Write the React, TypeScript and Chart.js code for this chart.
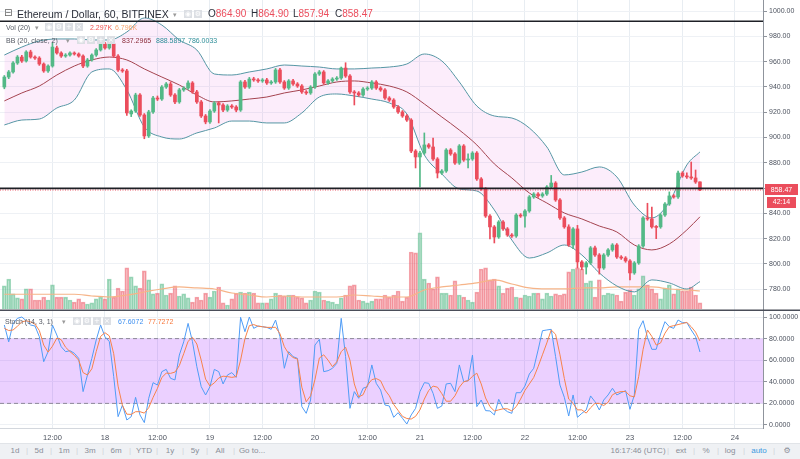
import React, { useEffect, useRef } from 'react';
import { Chart, registerables } from 'chart.js';

Chart.register(...registerables);

// ---------- data ----------
const START_HOUR = -23; // first candle: 17th 01:00 (hours relative to day 18 00:00)
const FIRST_DAY = 18;

const OPEN = [
  939.9, 947.8, 951.8, 958.9, 963.6, 960.5, 967.6, 963.6, 962.8, 958.1,
  952.6, 956.5, 970.8, 966.8, 964.4, 965.2, 966.8, 966.0, 964.4, 956.5,
  961.3, 965.2, 969.2, 973.9, 970.8, 973.9, 964.4, 953.4, 952.6, 918.6,
  920.9, 933.6, 917.8, 901.2, 920.2, 931.2, 930.4, 939.9, 942.3, 933.6,
  928.1, 937.6, 939.1, 943.1, 936.0, 928.1, 917.0, 912.3, 920.9, 927.3,
  925.7, 921.7, 924.9, 924.1, 921.7, 943.9, 939.9, 946.2, 945.5, 944.7,
  945.5, 943.1, 943.9, 953.4, 943.9, 939.1, 944.7, 942.3, 940.7, 936.0,
  935.2, 939.9, 950.2, 951.8, 943.1, 944.7, 946.2, 947.0, 954.9, 948.6,
  936.0, 935.2, 933.6, 938.3, 939.1, 943.9, 939.1, 937.6, 931.2, 929.6,
  924.1, 920.2, 917.0, 913.8, 889.3, 884.6, 887.7, 894.1, 892.5, 883.0,
  871.9, 873.5, 890.1, 887.0, 879.8, 893.3, 882.2, 883.0, 887.7, 867.2,
  859.3, 837.9, 829.3, 821.3, 833.2, 827.7, 822.9, 822.1, 838.7, 837.9,
  841.9, 853.0, 855.3, 853.8, 855.3, 860.9, 864.0, 850.6, 836.4, 829.3,
  815.0, 827.7, 801.6, 797.6, 800.8, 812.7, 807.1, 796.8, 807.1, 811.1,
  815.0, 805.5, 804.7, 802.4, 792.9, 800.8, 814.2, 836.4, 835.6, 829.3,
  829.3, 838.7, 847.4, 853.8, 853.0, 871.9, 869.6, 868.8, 868.0, 864.9,
];
const HIGH = [
  949.0, 953.0, 960.0, 964.8, 965.0, 968.6, 969.0, 964.6, 963.9, 959.0,
  957.5, 975.0, 972.3, 967.8, 966.3, 967.8, 967.7, 966.9, 965.3, 962.5,
  966.2, 970.3, 975.0, 975.2, 975.0, 975.3, 965.5, 954.5, 953.8, 921.9,
  935.0, 934.8, 918.9, 921.5, 932.5, 932.8, 941.0, 943.5, 944.0, 934.8,
  938.8, 940.2, 944.8, 944.2, 937.2, 929.3, 918.2, 922.0, 928.5, 928.4,
  926.8, 926.0, 926.0, 925.2, 945.0, 945.2, 947.5, 947.6, 946.6, 946.6,
  946.8, 945.0, 954.6, 954.6, 945.0, 945.8, 945.9, 943.4, 941.8, 937.1,
  941.0, 951.3, 953.0, 952.9, 945.8, 947.3, 948.1, 955.7, 959.1, 949.7,
  937.1, 936.3, 939.4, 940.2, 945.0, 945.0, 940.2, 938.7, 932.3, 930.7,
  925.2, 921.3, 918.1, 914.9, 890.4, 889.0, 903.6, 895.2, 899.6, 884.1,
  874.6, 891.2, 891.2, 888.1, 894.4, 894.4, 887.0, 888.8, 888.8, 868.3,
  860.4, 839.0, 830.4, 834.3, 834.3, 828.8, 824.0, 839.8, 839.8, 843.0,
  854.1, 856.4, 856.4, 856.4, 862.0, 870.0, 865.1, 851.7, 837.5, 831.0,
  828.8, 830.5, 802.7, 801.9, 813.8, 814.2, 808.2, 808.2, 812.2, 816.1,
  816.1, 806.6, 805.8, 803.5, 801.9, 815.3, 837.5, 848.0, 845.0, 830.4,
  839.8, 848.5, 857.0, 854.9, 873.5, 873.0, 872.0, 880.6, 874.3, 864.9,
];
const LOW = [
  938.5, 946.5, 950.9, 957.8, 959.4, 959.6, 962.7, 961.8, 957.0, 951.5,
  951.4, 955.6, 965.9, 963.3, 963.4, 964.2, 965.1, 963.5, 955.2, 955.5,
  960.4, 964.1, 968.3, 969.8, 969.8, 963.2, 952.2, 951.5, 917.5, 916.5,
  919.8, 916.6, 899.0, 900.0, 919.0, 929.2, 929.3, 938.8, 932.5, 926.8,
  927.0, 936.5, 938.0, 934.9, 926.9, 915.8, 910.8, 911.2, 919.8, 911.5,
  920.5, 920.6, 923.0, 920.3, 920.6, 938.8, 938.8, 944.4, 943.6, 943.6,
  942.0, 942.0, 942.8, 942.8, 938.0, 938.0, 941.2, 939.6, 934.9, 934.0,
  934.1, 938.8, 949.1, 942.0, 942.0, 943.6, 945.1, 945.9, 947.5, 934.9,
  925.7, 932.5, 932.5, 937.2, 938.0, 938.0, 936.5, 930.1, 928.5, 923.0,
  919.1, 915.9, 912.7, 888.0, 875.9, 860.9, 886.6, 891.4, 881.9, 868.0,
  870.8, 872.4, 885.9, 878.7, 878.7, 881.1, 876.0, 881.9, 866.1, 858.2,
  836.8, 819.8, 816.6, 820.2, 826.6, 821.8, 821.0, 821.0, 836.8, 829.0,
  840.8, 851.9, 852.7, 852.7, 854.2, 859.8, 849.5, 835.3, 828.2, 813.9,
  812.0, 797.0, 795.5, 792.0, 799.7, 806.0, 792.0, 795.7, 806.0, 810.0,
  804.4, 803.6, 801.3, 787.4, 791.8, 799.7, 813.1, 834.5, 828.2, 820.0,
  828.2, 837.6, 846.3, 852.0, 851.9, 868.5, 867.7, 866.9, 863.7, 857.94,
];
const CLOSE = [
  947.8, 951.8, 958.9, 963.6, 960.5, 967.6, 963.6, 962.8, 958.1, 952.6,
  956.5, 971.5, 966.8, 964.4, 965.2, 966.8, 966.0, 964.4, 956.5, 961.3,
  965.2, 969.2, 973.9, 970.8, 973.9, 964.4, 953.4, 952.6, 919.4, 920.9,
  933.6, 917.8, 901.2, 920.2, 931.2, 930.4, 939.9, 942.3, 933.6, 928.1,
  937.6, 939.1, 943.1, 936.0, 928.1, 917.0, 912.3, 920.9, 927.3, 925.7,
  921.7, 924.9, 924.1, 921.7, 943.9, 939.9, 946.2, 945.5, 944.7, 945.5,
  943.1, 943.9, 953.4, 943.9, 939.1, 944.7, 942.3, 940.7, 936.0, 935.2,
  939.9, 950.2, 951.8, 943.1, 944.7, 946.2, 947.0, 954.9, 948.6, 936.0,
  935.2, 933.6, 938.3, 939.1, 943.9, 939.1, 937.6, 931.2, 929.6, 924.1,
  920.2, 917.0, 913.8, 889.3, 884.6, 887.7, 894.1, 892.5, 883.0, 871.9,
  873.5, 890.1, 887.0, 879.8, 893.3, 882.2, 883.0, 887.7, 867.2, 859.3,
  837.9, 829.3, 821.3, 833.2, 827.7, 822.9, 822.1, 838.7, 837.9, 841.9,
  853.0, 855.3, 853.8, 855.3, 860.9, 864.0, 850.6, 836.4, 829.3, 815.0,
  827.7, 801.6, 797.6, 800.8, 812.7, 807.1, 796.8, 807.1, 811.1, 815.0,
  805.5, 804.7, 802.4, 792.9, 800.8, 814.2, 836.4, 835.6, 829.3, 828.9,
  838.7, 847.4, 853.8, 853.0, 871.9, 869.6, 868.8, 868.0, 864.8, 858.47,
];
// volume in thousands
const VOLUME = [
  8.7, 11.3, 5.7, 4.2, 3.8, 7.6, 7.6, 3.4, 3.4, 4.5,
  3.4, 9.1, 4.5, 4.5, 4.5, 3.4, 2.6, 3.8, 2.6, 1.9,
  2.3, 3.8, 4.5, 3.8, 11.3, 4.5, 7.9, 6.8, 15.5, 12.1,
  8.7, 7.9, 14.4, 11.0, 5.7, 6.0, 9.5, 5.3, 6.0, 8.7,
  4.9, 5.7, 4.2, 2.6, 4.5, 3.4, 6.0, 4.5, 6.8, 8.3,
  2.3, 1.5, 3.8, 6.0, 6.4, 6.0, 6.4, 6.0, 2.3, 2.3,
  2.3, 3.8, 6.0, 5.3, 4.9, 5.3, 5.3, 4.5, 4.2, 2.3,
  3.4, 6.8, 6.4, 3.4, 3.0, 2.6, 1.9, 4.2, 5.3, 8.7,
  9.1, 3.4, 3.0, 2.3, 3.0, 3.8, 3.8, 5.3, 4.5, 5.3,
  6.8, 3.0, 4.5, 21.5, 21.2, 28.7, 11.3, 9.8, 7.6, 12.1,
  6.0, 6.0, 5.3, 10.6, 5.3, 4.5, 3.4, 2.6, 6.4, 15.1,
  15.5, 11.0, 11.3, 8.7, 6.0, 7.9, 8.3, 4.5, 4.2, 5.3,
  4.9, 6.0, 6.0, 3.8, 6.0, 4.9, 5.7, 5.3, 5.7, 14.0,
  15.1, 15.5, 15.1, 9.8, 10.6, 4.5, 11.0, 5.3, 6.0, 5.7,
  5.3, 3.0, 6.4, 7.2, 5.3, 7.6, 12.5, 9.1, 7.6, 6.0,
  3.8, 7.9, 9.1, 5.7, 7.6, 6.8, 6.8, 8.3, 5.3, 2.297,
];
const STOCH_K = [
  92.6, 77, 94, 98.8, 100, 96.6, 92.6, 91.7, 81.8, 58.6,
  67.9, 92.6, 83.3, 72.5, 67.9, 68.8, 66.4, 61.7, 30.9, 46.3,
  61.7, 78.7, 92.6, 81.8, 77.2, 44.8, 7.7, 18.5, 4.6, 7.7,
  25.6, 9.3, 2.2, 24.7, 39.2, 37, 49.4, 51.5, 43.2, 41.7,
  64.8, 77, 94.1, 77.2, 54, 35.5, 27.8, 35.5, 51.5, 49.4,
  38, 46.3, 48.5, 44.1, 99.7, 86.4, 100, 89.5, 91.7, 91,
  90.4, 88.6, 97.2, 81.8, 52.5, 67.9, 63.3, 61.7, 17, 10.8,
  23.1, 74, 79.3, 49.4, 50.3, 52.5, 57.1, 98.8, 63.3, 15.4,
  30.9, 24.7, 34, 35.5, 55.6, 38.6, 32.4, 18.5, 17.6, 7.1,
  11.4, 6.2, 0.9, 9.3, 15.4, 30.9, 39.2, 38.6, 29.3, 15.4,
  17.6, 38, 38.6, 30.9, 55.6, 40.1, 41, 64.8, 17, 23.1,
  13.3, 13, 9.3, 23.8, 15.4, 12.3, 10.8, 29.9, 29.9, 36.1,
  47.2, 52.5, 69.4, 87.3, 88, 88.6, 63.3, 37, 25.6, 8.3,
  27.8, 7.1, 10.8, 13.9, 26.9, 21.6, 13.9, 23.1, 27.8, 34,
  27.8, 29.9, 31.8, 14.5, 27.8, 88.6, 96.6, 81.2, 70.1, 70.1,
  84.3, 95.7, 91, 89.5, 97.2, 94.8, 94.8, 88, 81.8, 67.6072,
];
const STOCH_D = [
  89.5, 87.5, 88, 91.5, 95.5, 96.5, 95.5, 93.5, 87.5, 74,
  67.5, 73, 80.5, 79, 72, 68, 64.5, 60, 48.5, 46.3,
  52, 68, 82, 85.5, 82.5, 66, 36, 18, 10, 9.8,
  12.3, 12.3, 11, 16, 25.5, 34, 44, 48, 47.8, 49,
  55, 66, 77.5, 81.2, 75, 60, 42.5, 36, 39, 43.5,
  45.2, 44.8, 44.1, 44.8, 60, 80, 92, 93, 91.5, 91,
  90.4, 90.4, 90.5, 84.5, 72.5, 66, 62.5, 61, 35, 21.5,
  27, 42, 62, 65, 60, 54, 58.6, 67.9, 72, 60,
  38, 26, 28, 37, 42, 43, 41, 32.4, 27, 19,
  13.5, 8, 6, 5.5, 8, 14, 24, 32, 36, 35,
  29, 22, 22, 27, 35, 40, 41, 45, 48, 38,
  25, 17, 13, 14, 15, 15, 13, 17, 24, 32,
  38, 44, 54, 65, 76, 88, 84, 65, 43, 24,
  20, 14, 14, 11, 16, 20, 20, 18, 21, 28,
  30, 31, 31, 27, 26, 45, 70, 88, 82, 74,
  76, 85, 91, 92, 93, 94, 95, 91, 86, 77.7272,
];

// Bollinger bands / volume MA, read every 4 hours
const BAND_HOURS = [
  -23, -19, -15, -11, -7, -3, 1, 5, 9, 13, 17, 21, 25, 29, 33, 37, 41, 45, 49, 53,
  57, 61, 65, 69, 73, 77, 81, 85, 89, 93, 97, 101, 105, 109, 113, 117, 121, 125, 129, 133, 136,
];
const BB_UPPER = [
  965.2, 971.5, 976.3, 977.9, 977.9, 977.1, 977.1, 983.4, 994.5, 988.9,
  977.1, 969.2, 950.2, 949.4, 951.8, 954.2, 957.3, 956.5, 955.7, 954.2,
  954.2, 954.9, 955.7, 958.1, 966.0, 960.5, 943.9, 924.9, 917.0, 915.4,
  907.5, 892.5, 870.4, 872.7, 876.7, 868.8, 846.6, 836.4, 849.0, 878.3, 888.5897,
];
const BB_BASIS = [
  928.9, 935.2, 940.7, 949.4, 956.5, 961.3, 963.6, 961.3, 954.2, 947.8,
  941.5, 933.6, 928.1, 928.9, 930.4, 932.0, 935.2, 937.6, 940.7, 943.9,
  944.7, 943.1, 940.7, 936.0, 926.5, 916.2, 905.9, 894.1, 879.1, 868.0,
  856.1, 848.2, 840.3, 835.6, 830.0, 825.3, 815.0, 811.1, 815.8, 826.9, 837.2965,
];
const BB_LOWER = [
  909.9, 913.8, 914.6, 923.3, 929.6, 951.8, 954.2, 937.6, 908.3, 900.4,
  898.8, 903.6, 907.5, 913.0, 913.0, 911.5, 911.5, 919.4, 932.0, 934.4,
  932.8, 930.4, 927.3, 918.6, 886.2, 871.1, 859.3, 857.7, 842.7, 818.9,
  804.7, 808.7, 815.0, 807.1, 792.9, 782.6, 777.9, 787.4, 785.0, 780.2, 786.0033,
];
const VOL_MA = [
  5.56, 5.56, 5.56, 5.56, 5.56, 4.91, 4.54, 5.29, 6.43, 7.56,
  8.32, 7.94, 7.56, 6.05, 5.29, 4.54, 4.91, 4.54, 4.54, 4.54,
  5.29, 4.91, 4.54, 4.54, 7.18, 8.32, 9.07, 9.83, 10.96, 9.45,
  7.94, 7.56, 7.56, 7.94, 7.94, 8.32, 8.32, 8.32, 7.56, 7.18, 6.796,
];

const H_LINE_TOP = 991.9;
const H_LINE_MID = 859.8;
const LAST_PRICE = 858.47;
const STOCH_UPPER = 80;
const STOCH_LOWER = 20;

const PRICE_TICKS = [780, 800, 820, 840, 860, 880, 900, 920, 940, 960, 980, 1000];

// ---------- styles ----------
const X_MIN = -23.99;
const X_MAX = 150.41;
const GREEN = '#53b987';
const RED = '#eb4d5c';
const GRID = '#eef1f5';
const AXIS = '#8f949c';
const TEXT = '#4c525e';
const FONT = '"Liberation Sans", Arial, sans-serif';

const hourAt = (i: number) => START_HOUR + i;

const noPad = (s: any) => {
  s.paddingTop = 0;
  s.paddingBottom = 0;
  s.paddingLeft = 0;
  s.paddingRight = 0;
};

const overlayPlugin = {
  id: 'tvOverlay',
  afterDraw(chart: any) {
    const ctx = chart.ctx;
    const yP = chart.scales.yPrice;
    const yS = chart.scales.yStoch;
    ctx.save();
    ctx.strokeStyle = '#4a4e59';
    ctx.lineWidth = 1.5;
    ctx.beginPath();
    const sy = Math.round(yS.top) + 0.25;
    ctx.moveTo(0, sy);
    ctx.lineTo(chart.width, sy);
    ctx.stroke();

    const py = yP.getPixelForValue(LAST_PRICE);
    ctx.fillStyle = RED;
    ctx.fillRect(yP.left + 2, py - 6, 33, 11);
    ctx.fillRect(yP.left + 4, py + 7, 29, 11);
    ctx.fillStyle = '#ffffff';
    ctx.font = '7px ' + FONT;
    ctx.textBaseline = 'middle';
    ctx.textAlign = 'center';
    ctx.fillText(LAST_PRICE.toFixed(2), yP.left + 18.5, py);
    ctx.fillText('42:14', yP.left + 18.5, py + 12.5);
    ctx.restore();
  },
};

function ChartCanvas() {
  const ref = useRef<HTMLCanvasElement | null>(null);
  useEffect(() => {
    if (!ref.current) return;
    const candleColors = CLOSE.map((c, i) => (c >= OPEN[i] ? GREEN : RED));
    const volFill = CLOSE.map((c, i) => (c >= OPEN[i] ? 'rgba(83,185,135,0.38)' : 'rgba(235,77,92,0.34)'));
    const volBorder = CLOSE.map((c, i) => (c >= OPEN[i] ? 'rgba(83,185,135,0.55)' : 'rgba(235,77,92,0.5)'));
    const flat = (v: number) => [{ x: X_MIN, y: v }, { x: X_MAX, y: v }];

    const chart = new Chart(ref.current, {
      type: 'bar',
      data: {
        datasets: [
          {
            type: 'line', label: 'top', yAxisID: 'yPrice', data: flat(H_LINE_TOP),
            borderColor: '#1e2026', borderWidth: 1.6, pointRadius: 0, order: 0,
          },
          {
            type: 'line', label: 'mid', yAxisID: 'yPrice', data: flat(H_LINE_MID),
            borderColor: '#1e2026', borderWidth: 1.6, pointRadius: 0, order: 0,
          },
          {
            type: 'line', label: 'last', yAxisID: 'yPrice', data: flat(LAST_PRICE),
            borderColor: RED, borderWidth: 1, borderDash: [1, 1.5], pointRadius: 0, order: 0,
          },
          {
            type: 'bar', label: 'body', yAxisID: 'yPrice', grouped: false,
            data: OPEN.map((o, i) => ({ x: hourAt(i), y: [o, CLOSE[i]] })),
            backgroundColor: candleColors, barThickness: 3, minBarLength: 1, order: 1,
          },
          {
            type: 'bar', label: 'wick', yAxisID: 'yPrice', grouped: false,
            data: LOW.map((l, i) => ({ x: hourAt(i), y: [l, HIGH[i]] })),
            backgroundColor: candleColors, barThickness: 1, order: 2,
          },
          {
            type: 'line', label: '%D', yAxisID: 'yStoch',
            data: STOCH_D.map((v, i) => ({ x: hourAt(i), y: v })),
            borderColor: '#f7824a', borderWidth: 1, pointRadius: 0, order: 3,
          },
          {
            type: 'line', label: '%K', yAxisID: 'yStoch',
            data: STOCH_K.map((v, i) => ({ x: hourAt(i), y: v })),
            borderColor: '#4f9cf6', borderWidth: 1, pointRadius: 0, order: 4,
          },
          {
            type: 'line', label: 'st80', yAxisID: 'yStoch', data: flat(STOCH_UPPER),
            borderColor: '#8d8898', borderWidth: 1, borderDash: [4, 3], pointRadius: 0,
            fill: { value: STOCH_LOWER }, backgroundColor: 'rgba(153,21,255,0.2)', order: 5,
          },
          {
            type: 'line', label: 'st20', yAxisID: 'yStoch', data: flat(STOCH_LOWER),
            borderColor: '#8d8898', borderWidth: 1, borderDash: [4, 3], pointRadius: 0, order: 5,
          },
          {
            type: 'line', label: 'bbU', yAxisID: 'yPrice',
            data: BAND_HOURS.map((h, i) => ({ x: h, y: BB_UPPER[i] })),
            borderColor: '#5596a4', borderWidth: 1, pointRadius: 0, cubicInterpolationMode: 'monotone',
            fill: '+2', backgroundColor: 'rgba(225,90,215,0.11)', order: 6,
          },
          {
            type: 'line', label: 'bbB', yAxisID: 'yPrice',
            data: BAND_HOURS.map((h, i) => ({ x: h, y: BB_BASIS[i] })),
            borderColor: '#a4434f', borderWidth: 1, pointRadius: 0, cubicInterpolationMode: 'monotone', order: 6,
          },
          {
            type: 'line', label: 'bbL', yAxisID: 'yPrice',
            data: BAND_HOURS.map((h, i) => ({ x: h, y: BB_LOWER[i] })),
            borderColor: '#5596a4', borderWidth: 1, pointRadius: 0, cubicInterpolationMode: 'monotone', order: 6,
          },
          {
            type: 'line', label: 'volMA', yAxisID: 'yVol',
            data: BAND_HOURS.map((h, i) => ({ x: h, y: VOL_MA[i] })),
            borderColor: '#f6b488', borderWidth: 1.2, pointRadius: 0, cubicInterpolationMode: 'monotone', order: 7,
          },
          {
            type: 'bar', label: 'vol', yAxisID: 'yVol', grouped: false,
            data: VOLUME.map((v, i) => ({ x: hourAt(i), y: v })),
            backgroundColor: volFill, borderColor: volBorder, borderWidth: 1,
            barThickness: 4, order: 8,
          },
        ] as any,
      },
      options: {
        responsive: false,
        animation: false,
        devicePixelRatio: 1,
        events: [],
        layout: { padding: 0 },
        plugins: {
          legend: { display: false },
          tooltip: { enabled: false },
          filler: { drawTime: 'beforeDatasetsDraw', propagate: false },
        } as any,
        scales: {
          x: {
            type: 'linear', position: 'bottom', min: X_MIN, max: X_MAX, offset: false,
            grid: { color: '#e8edf2', drawTicks: false, offset: false },
            border: { color: '#d3d7dd' },
            ticks: {
              stepSize: 12, includeBounds: false, autoSkip: false, maxRotation: 0,
              color: TEXT, font: { family: FONT, size: 7.5 }, padding: 5,
              callback: (v: any) => {
                const n = Number(v);
                return n % 24 === 0 ? String(FIRST_DAY + n / 24) : '12:00';
              },
            },
            afterFit: (s: any) => { s.height = 15; noPad(s); },
          },
          yPrice: {
            type: 'linear', position: 'right', stack: 'panes', stackWeight: 310,
            min: 763.6, max: 1008.7,
            grid: { color: GRID, tickLength: 4, tickColor: AXIS },
            border: { color: AXIS },
            afterBuildTicks: (s: any) => { s.ticks = PRICE_TICKS.map((v) => ({ value: v })); },
            ticks: {
              color: TEXT, font: { family: FONT, size: 7 }, padding: 2,
              callback: (v: any) => Number(v).toFixed(2),
            },
            afterFit: (s: any) => { s.width = 37; noPad(s); },
          },
          yStoch: {
            type: 'linear', position: 'right', stack: 'panes', stackWeight: 118,
            min: -2.8, max: 106.5,
            grid: { color: GRID, tickLength: 4, tickColor: AXIS },
            border: { color: AXIS },
            ticks: {
              stepSize: 20, includeBounds: false,
              color: TEXT, font: { family: FONT, size: 7 }, padding: 2,
              callback: (v: any) => Number(v).toFixed(4),
            },
            afterFit: (s: any) => { s.width = 37; noPad(s); },
          },
          yVol: {
            type: 'linear', display: false, min: -44.9, max: 116.6,
          },
        } as any,
      },
      plugins: [overlayPlugin],
    });
    return () => chart.destroy();
  }, []);
  return (
    <canvas
      ref={ref}
      width={800}
      height={443}
      style={{ position: 'absolute', left: 0, top: 0, width: 800, height: 443 }}
    />
  );
}

function Icons({ left, top, n }: { left: number; top: number; n: number }) {
  const glyphs = ['◉', '⚙', '+', '×'];
  const items = [];
  for (let i = 0; i < n; i++) {
    items.push(
      <span
        key={i}
        style={{
          position: 'absolute', left: left + i * 10, top, width: 8, height: 8,
          background: '#dcdfe4', color: '#ffffff', fontSize: 7, lineHeight: '8px',
          textAlign: 'center', fontFamily: '"DejaVu Sans", sans-serif',
        }}
      >
        {glyphs[i % glyphs.length]}
      </span>
    );
  }
  return <>{items}</>;
}

const abs = (left: number, top: number, extra: any = {}) => ({
  position: 'absolute' as const, left, top, whiteSpace: 'nowrap' as const, ...extra,
});

function Legend() {
  const small = { fontSize: 7, lineHeight: '9px', color: '#555a64' };
  const big = { fontSize: 10.5, lineHeight: '12px', color: '#2a2e39' };
  return (
    <>
      <span style={abs(4, 7, { ...big, fontFamily: '"DejaVu Sans", sans-serif', fontSize: 10, color: '#666' })}>⊟</span>
      <span style={abs(17, 8, big)}>Ethereum / Dollar, 60, BITFINEX</span>
      <span style={abs(173, 10, { ...small, color: '#999' })}>▾</span>
      <Icons left={184} top={10} n={2} />
      <span style={abs(208, 8, { ...big, fontSize: 10 })}>O<span style={{ color: RED }}>864.90</span></span>
      <span style={abs(251, 8, { ...big, fontSize: 10 })}>H<span style={{ color: RED }}>864.90</span></span>
      <span style={abs(293, 8, { ...big, fontSize: 10 })}>L<span style={{ color: RED }}>857.94</span></span>
      <span style={abs(335, 8, { ...big, fontSize: 10 })}>C<span style={{ color: RED }}>858.47</span></span>

      <span style={abs(6, 23, small)}>Vol (20)</span>
      <span style={abs(35, 23, { ...small, color: '#999' })}>▾</span>
      <Icons left={45} top={23} n={4} />
      <span style={abs(90, 23, { ...small, color: '#ef5350' })}>2.297K</span>
      <span style={abs(115, 23, { ...small, color: '#f7a46e' })}>6.796K</span>

      <span style={abs(6, 36, small)}>BB (20, close, 2)</span>
      <span style={abs(66, 36, { ...small, color: '#999' })}>▾</span>
      <Icons left={77} top={36} n={4} />
      <span style={abs(122, 36, { ...small, color: '#8b2c3a' })}>837.2965</span>
      <span style={abs(156, 36, { ...small, color: '#2f8f99' })}>888.5897</span>
      <span style={abs(188, 36, { ...small, color: '#2f8f99' })}>786.0033</span>

      <span style={abs(5, 317, small)}>Stoch (14, 3, 1)</span>
      <span style={abs(62, 317, { ...small, color: '#999' })}>▾</span>
      <Icons left={73} top={317} n={4} />
      <span style={abs(118, 317, { ...small, color: '#3d8ff0' })}>67.6072</span>
      <span style={abs(148, 317, { ...small, color: '#f7773b' })}>77.7272</span>
    </>
  );
}

function Toolbar() {
  const left = [
    ['1d', 15], ['5d', 39], ['1m', 64], ['3m', 90], ['6m', 116], ['YTD', 144],
    ['1y', 170], ['5y', 195], ['All', 220], ['Go to...', 252],
  ];
  const right = [
    ['16:17:46 (UTC)', 638], ['ext', 681], ['%', 706], ['log', 730], ['auto', 759], ['⚙', 787],
  ];
  const seps = [27, 51, 77, 103, 130, 157, 183, 207, 234, 668, 694, 718, 744, 774];
  const base = { fontSize: 8, lineHeight: '16px', color: '#8a8f98', transform: 'translateX(-50%)' };
  return (
    <div style={{ position: 'absolute', left: 0, top: 443, width: 800, height: 16, background: '#eff1f4', borderTop: '1px solid #e1e4e8', boxSizing: 'border-box' }}>
      {left.concat(right).map(([t, x]) => (
        <span key={String(t)} style={abs(x as number, -1, { ...base, color: t === 'auto' ? '#3b9ae1' : '#8a8f98', fontFamily: t === '⚙' ? '"DejaVu Sans", sans-serif' : FONT })}>
          {t}
        </span>
      ))}
      {seps.map((x) => (
        <span key={'s' + x} style={abs(x, -1, { ...base, color: '#cfd3d9' })}>|</span>
      ))}
    </div>
  );
}

export default function App() {
  return (
    <div
      style={{
        position: 'fixed', left: 0, top: 0, width: 800, height: 459, overflow: 'hidden',
        background: '#ffffff', fontFamily: FONT,
      }}
    >
      <ChartCanvas />
      <Legend />
      <Toolbar />
    </div>
  );
}
